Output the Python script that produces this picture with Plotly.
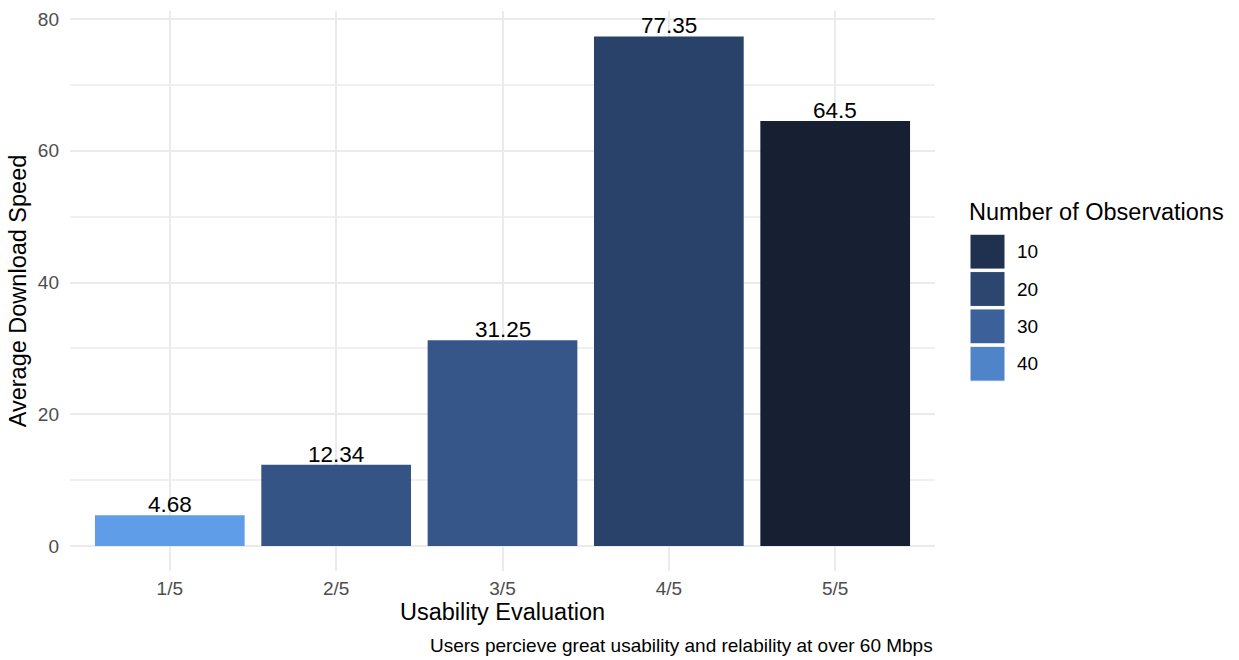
import plotly.graph_objects as go
from plotly.colors import sample_colorscale

# Data
ratings = ["1/5", "2/5", "3/5", "4/5", "5/5"]
avg_speed = [4.68, 12.34, 31.25, 77.35, 64.5]
n_obs = [48, 25, 26, 18, 4]
legend_levels = [10, 20, 30, 40]

# Continuous fill scale (dark navy -> light blue)
CMIN, CMAX = 4, 48
scale_pts = [(4, "#172033"), (10, "#1f314e"), (20, "#2c4670"),
             (30, "#3c619a"), (40, "#5084c8"), (48, "#5f9de9")]
colorscale = [[(v - CMIN) / (CMAX - CMIN), c] for v, c in scale_pts]

W, H = 1239, 660
L, R, T, B = 70, 304, 9, 89
PW, PH = W - L - R, H - T - B

def px(x):
    return (x - L) / PW

def py(y):
    return (H - B - y) / PH

FONT = "Liberation Sans, Arial, sans-serif"
SMALL, LARGE = 19, 23.5

fig = go.Figure(go.Bar(
    x=ratings, y=avg_speed,
    marker=dict(color=n_obs, colorscale=colorscale, cmin=CMIN, cmax=CMAX,
                showscale=False, line=dict(width=0)),
    showlegend=False,
))

# Value labels sitting on top of each bar
for r, v in zip(ratings, avg_speed):
    fig.add_annotation(x=r, y=v, text=f"{v:g}", showarrow=False,
                       xanchor="center", yanchor="bottom", yshift=-4,
                       font=dict(size=22.5, color="black"))

fig.update_layout(
    width=W, height=H,
    margin=dict(l=L, r=R, t=T, b=B),
    paper_bgcolor="white", plot_bgcolor="white",
    bargap=0.1,
    font=dict(family=FONT),
    xaxis=dict(
        showgrid=True, gridcolor="#ebebeb", gridwidth=2,
        zeroline=False, showline=False, ticks="",
        ticklabelstandoff=4,
        tickfont=dict(size=SMALL, color="#4d4d4d"),
        title=dict(text="Usability Evaluation", font=dict(size=LARGE, color="black"), standoff=5),
        range=[-0.6, len(ratings) - 0.4],
    ),
    yaxis=dict(
        range=[-3.78, 81.21],
        tickvals=[0, 20, 40, 60, 80],
        showgrid=True, gridcolor="#ebebeb", gridwidth=2,
        minor=dict(tickvals=[10, 30, 50, 70], showgrid=True, gridcolor="#f0f0f0", gridwidth=1.5),
        zeroline=False, showline=False, ticks="",
        ticklabelstandoff=10,
        tickfont=dict(size=SMALL, color="#4d4d4d"),
        title=dict(text="Average Download Speed", font=dict(size=LARGE, color="black"), standoff=4),
    ),
)

# Legend: title, colour keys and labels
legend_colors = sample_colorscale(colorscale, [(v - CMIN) / (CMAX - CMIN) for v in legend_levels])
fig.add_annotation(text="Number of Observations", xref="paper", yref="paper",
                   x=px(967), y=py(211), xanchor="left", yanchor="middle",
                   showarrow=False, font=dict(size=LARGE, color="black"))
key_top, key_h, key_gap = 233, 35, 2.5
for i, (lvl, col) in enumerate(zip(legend_levels, legend_colors)):
    top = key_top + i * (key_h + key_gap)
    fig.add_shape(type="rect", xref="paper", yref="paper",
                  x0=px(970), x1=px(1005), y0=py(top + key_h), y1=py(top),
                  fillcolor=col, line=dict(color="white", width=1))
    fig.add_annotation(text=str(lvl), xref="paper", yref="paper",
                       x=px(1015), y=py(top + key_h / 2), xanchor="left", yanchor="middle",
                       showarrow=False, font=dict(size=SMALL, color="black"))

# Caption
fig.add_annotation(text="Users percieve great usability and relability at over 60 Mbps",
                   xref="paper", yref="paper", x=px(935), y=py(646),
                   xanchor="right", yanchor="middle", showarrow=False,
                   font=dict(size=SMALL, color="black"))

fig.write_html("out.html")
